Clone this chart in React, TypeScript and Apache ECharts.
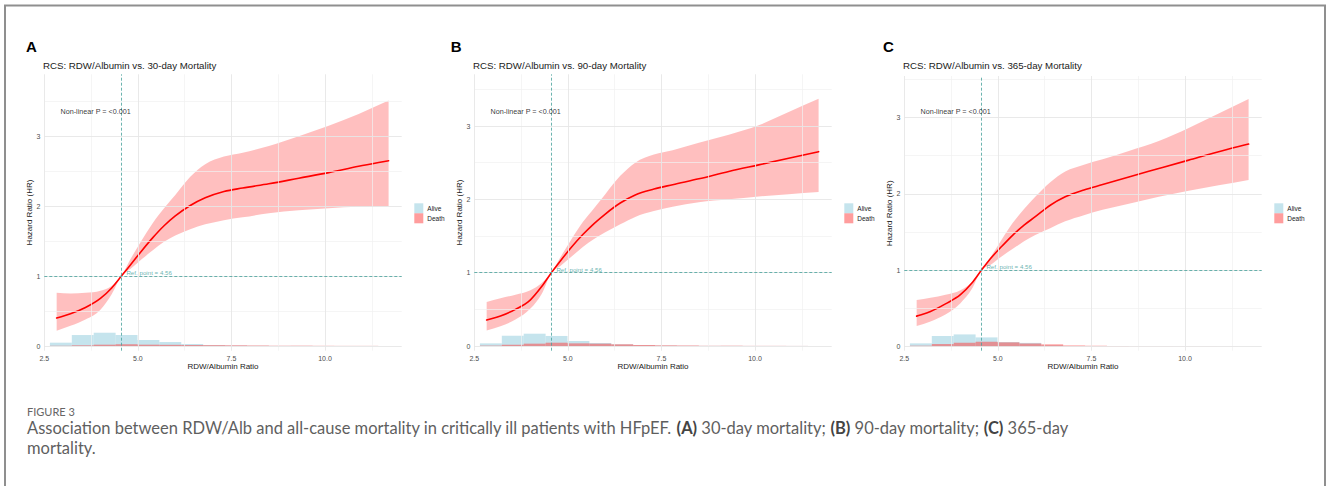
import { useEffect, useRef } from "react";
import * as echarts from "echarts";

// Reference value of the RDW/Albumin ratio (HR = 1)
const REF_POINT = 4.56;

// Knots at which the fitted hazard ratio and its 95% CI are read
const X_KNOTS = [2.83, 3.2, 3.6, 4.0, 4.3, 4.56, 4.8, 5.1, 5.4, 5.7, 6.0, 6.4, 6.8, 7.3, 7.8, 8.5, 9.3, 10.1, 10.9, 11.7];

// 30-day mortality
const HR_30 = [0.4, 0.46, 0.55, 0.68, 0.83, 1.0, 1.16, 1.36, 1.55, 1.72, 1.86, 2.01, 2.12, 2.21, 2.26, 2.32, 2.4, 2.48, 2.57, 2.65];
const LO_30 = [0.22, 0.29, 0.38, 0.52, 0.74, 1.0, 1.1, 1.24, 1.37, 1.49, 1.58, 1.67, 1.74, 1.8, 1.84, 1.9, 1.94, 1.97, 1.99, 2.0];
const HI_30 = [0.76, 0.75, 0.76, 0.79, 0.86, 1.0, 1.24, 1.51, 1.76, 1.97, 2.16, 2.42, 2.6, 2.71, 2.765, 2.86, 3.0, 3.15, 3.32, 3.51];

// 90-day mortality
const HR_90 = [0.355, 0.41, 0.5, 0.63, 0.81, 1.0, 1.16, 1.35, 1.52, 1.67, 1.8, 1.95, 2.06, 2.14, 2.2, 2.28, 2.38, 2.47, 2.56, 2.65];
const LO_90 = [0.21, 0.27, 0.36, 0.51, 0.71, 1.0, 1.09, 1.22, 1.35, 1.46, 1.55, 1.66, 1.76, 1.84, 1.9, 1.96, 2.0, 2.04, 2.07, 2.1];
const HI_90 = [0.6, 0.65, 0.7, 0.76, 0.86, 1.0, 1.21, 1.46, 1.69, 1.88, 2.07, 2.32, 2.5, 2.61, 2.67, 2.77, 2.88, 3.01, 3.19, 3.37];

// 365-day mortality
const HR_365 = [0.4, 0.46, 0.56, 0.68, 0.83, 1.0, 1.15, 1.31, 1.46, 1.59, 1.7, 1.85, 1.96, 2.05, 2.12, 2.22, 2.33, 2.44, 2.55, 2.65];
const LO_365 = [0.27, 0.33, 0.42, 0.57, 0.75, 1.0, 1.07, 1.18, 1.28, 1.38, 1.46, 1.55, 1.64, 1.72, 1.79, 1.87, 1.96, 2.04, 2.11, 2.18];
const HI_365 = [0.61, 0.64, 0.68, 0.74, 0.84, 1.0, 1.17, 1.4, 1.62, 1.8, 1.96, 2.15, 2.29, 2.38, 2.45, 2.56, 2.69, 2.86, 3.05, 3.24];

// Histogram bins of the ratio (left edges, common width), scaled densities
const BIN_LEFT = [2.65, 3.235, 3.82, 4.405, 4.99, 5.575, 6.16, 6.745, 7.33, 7.915, 8.5, 9.085, 9.67, 10.255, 10.84];
const BIN_WIDTH = 0.585;

const ALIVE_30 = [0.048, 0.157, 0.19, 0.157, 0.086, 0.057, 0.029, 0.012, 0.007, 0.004, 0.002, 0.002, 0.001, 0.001, 0.001];
const DEATH_30 = [0.003, 0.01, 0.019, 0.024, 0.019, 0.017, 0.014, 0.012, 0.01, 0.008, 0.004, 0.005, 0.003, 0.002, 0.002];
const ALIVE_90 = [0.036, 0.141, 0.168, 0.137, 0.068, 0.041, 0.023, 0.01, 0.006, 0.003, 0.002, 0.002, 0.001, 0.001, 0.001];
const DEATH_90 = [0.005, 0.018, 0.032, 0.045, 0.036, 0.032, 0.023, 0.014, 0.009, 0.007, 0.003, 0.004, 0.002, 0.002, 0.001];
const ALIVE_365 = [0.044, 0.14, 0.161, 0.122, 0.061, 0.05, 0.018, 0.008, 0.004, 0.002, 0.001, 0.001, 0.001, 0.0005, 0.0005];
const DEATH_365 = [0.013, 0.035, 0.052, 0.065, 0.057, 0.042, 0.031, 0.017, 0.013, 0.009, 0.004, 0.004, 0.003, 0.003, 0.002];

// Grid lines
const X_MAJOR = [2.5, 5, 7.5, 10];
const X_MINOR = [3.75, 6.25, 8.75, 11.25];
const Y_MAJOR = [0, 1, 2, 3];
const Y_MINOR = [0.5, 1.5, 2.5, 3.5];

const LEGEND_ITEMS = ["Alive", "Death"];
const NONLINEAR_TEXT = "Non-linear P = <0.001";
const REF_TEXT = "Ref. point = 4.56";

const PANELS = [
  {
    letter: "A",
    title: "RCS: RDW/Albumin vs. 30-day Mortality",
    hr: HR_30, lo: LO_30, hi: HI_30, alive: ALIVE_30, death: DEATH_30,
    yMin: -0.067, yMax: 3.886, top: 74.3, height: 276.4,
    letterX: 26, pY: 3.35, refY: 1.047,
  },
  {
    letter: "B",
    title: "RCS: RDW/Albumin vs. 90-day Mortality",
    hr: HR_90, lo: LO_90, hi: HI_90, alive: ALIVE_90, death: DEATH_90,
    yMin: -0.064, yMax: 3.705, top: 74.3, height: 276.4,
    letterX: 450.7, pY: 3.2, refY: 1.037,
  },
  {
    letter: "C",
    title: "RCS: RDW/Albumin vs. 365-day Mortality",
    hr: HR_365, lo: LO_365, hi: HI_365, alive: ALIVE_365, death: DEATH_365,
    yMin: -0.052, yMax: 3.54, top: 76, height: 274.7,
    letterX: 883, pY: 3.08, refY: 1.047,
  },
];

const FONT = "Liberation Sans, Arial, sans-serif";
const CAPTION_FONT = "Lato, 'Open Sans', sans-serif";
const ALIVE_FILL = "rgba(173,216,230,0.7)";
const DEATH_FILL = "rgba(255,60,60,0.5)";
const RIBBON_FILL = "rgba(255,0,0,0.25)";
const TEAL = "#45a19b";

// Cubic Hermite spline through (xs, ys) in data space, mapped to pixels with the axis scales
function hermitePath(xs: number[], ys: number[], coord: (v: number[]) => number[], start: "M" | "L"): string {
  const n = xs.length;
  const d: number[] = [];
  for (let i = 0; i < n - 1; i++) d.push((ys[i + 1] - ys[i]) / (xs[i + 1] - xs[i]));
  const m: number[] = xs.map((_, i) => {
    if (i === 0) return d[0];
    if (i === n - 1) return d[n - 2];
    const h0 = xs[i] - xs[i - 1];
    const h1 = xs[i + 1] - xs[i];
    return (d[i - 1] * h1 + d[i] * h0) / (h0 + h1);
  });
  const p0 = coord([xs[0], ys[0]]);
  let path = `${start}${p0[0]},${p0[1]}`;
  for (let i = 0; i < n - 1; i++) {
    const h = xs[i + 1] - xs[i];
    const c1 = coord([xs[i] + h / 3, ys[i] + (m[i] * h) / 3]);
    const c2 = coord([xs[i + 1] - h / 3, ys[i + 1] - (m[i + 1] * h) / 3]);
    const p = coord([xs[i + 1], ys[i + 1]]);
    path += ` C${c1[0]},${c1[1]} ${c2[0]},${c2[1]} ${p[0]},${p[1]}`;
  }
  return path;
}

function buildOption() {
  const grids: any[] = [];
  const xAxes: any[] = [];
  const yAxes: any[] = [];
  const legends: any[] = [];
  const series: any[] = [];
  const graphics: any[] = [];

  PANELS.forEach((p, k) => {
    const left = 44.3 + 430 * k;
    grids.push({ left, top: p.top, width: 357.4, height: p.height, containLabel: false });

    xAxes.push({
      type: "value",
      gridIndex: k,
      min: 2.5,
      max: 12.05,
      minInterval: 2.5,
      maxInterval: 2.5,
      axisLine: { show: false },
      axisTick: { show: false },
      splitLine: { show: false },
      axisLabel: {
        fontSize: 7,
        color: "#4d4d4d",
        margin: 4,
        fontFamily: FONT,
        showMaxLabel: false,
        formatter: (v: number) => v.toFixed(1),
      },
      name: "RDW/Albumin Ratio",
      nameLocation: "middle",
      nameGap: 12,
      nameMoveOverlap: false,
      nameTextStyle: { fontSize: 8, color: "#1a1a1a", fontFamily: FONT },
    });

    yAxes.push({
      type: "value",
      gridIndex: k,
      min: p.yMin,
      max: p.yMax,
      minInterval: 1,
      maxInterval: 1,
      axisLine: { show: false },
      axisTick: { show: false },
      splitLine: { show: false },
      axisLabel: {
        fontSize: 7,
        color: "#4d4d4d",
        margin: 4,
        fontFamily: FONT,
        showMinLabel: false,
        showMaxLabel: false,
        formatter: (v: number) => String(v),
      },
      name: "Hazard Ratio (HR)",
      nameLocation: "middle",
      nameGap: 10.5,
      nameMoveOverlap: false,
      nameTextStyle: { fontSize: 8, color: "#1a1a1a", fontFamily: FONT },
    });

    legends.push({
      data: LEGEND_ITEMS,
      left: 414.3 + 430 * k,
      top: 203.3,
      orient: "vertical",
      icon: "rect",
      itemWidth: 9,
      itemHeight: 10,
      itemGap: 0,
      padding: 0,
      selectedMode: false,
      textStyle: { fontSize: 6.5, color: "#1a1a1a", fontFamily: FONT, padding: [0, 0, 0, -1] },
    });

    const major = { color: "#e6e6e6", width: 0.9, type: "solid" };
    const minor = { color: "#f1f1f1", width: 0.7, type: "solid" };

    // Panel grid lines
    series.push({
      type: "line",
      xAxisIndex: k,
      yAxisIndex: k,
      data: [],
      silent: true,
      z: 1,
      markLine: {
        silent: true,
        animation: false,
        symbol: ["none", "none"],
        label: { show: false },
        emphasis: { disabled: true },
        data: [
          ...X_MINOR.map((v) => ({ xAxis: v, lineStyle: minor })),
          ...Y_MINOR.map((v) => ({ yAxis: v, lineStyle: minor })),
          ...X_MAJOR.map((v) => ({ xAxis: v, lineStyle: major })),
          ...Y_MAJOR.map((v) => ({ yAxis: v, lineStyle: major })),
        ],
      },
    });

    // Histograms of the ratio by outcome
    const histSeries = (name: string, values: number[], fill: string) => ({
      type: "custom",
      name,
      xAxisIndex: k,
      yAxisIndex: k,
      z: 2,
      silent: true,
      itemStyle: { color: fill },
      encode: { x: [0, 1], y: 2 },
      data: BIN_LEFT.map((x, i) => [x, x + BIN_WIDTH, values[i]]),
      renderItem: (_params: any, api: any) => {
        const a = api.coord([api.value(0), api.value(2)]);
        const b = api.coord([api.value(1), 0]);
        return {
          type: "rect",
          shape: { x: a[0], y: a[1], width: b[0] - a[0], height: b[1] - a[1] },
          style: { fill },
        };
      },
    });
    series.push(histSeries("Alive", p.alive, ALIVE_FILL));
    series.push(histSeries("Death", p.death, DEATH_FILL));

    // 95% confidence band
    series.push({
      type: "custom",
      xAxisIndex: k,
      yAxisIndex: k,
      z: 3,
      silent: true,
      encode: { x: 0, y: [1, 2] },
      data: X_KNOTS.map((x, i) => [x, p.lo[i], p.hi[i]]),
      renderItem: (params: any, api: any) => {
        if (params.dataIndex !== 0) return { type: "group", children: [] };
        const coord = (v: number[]) => api.coord(v);
        const revX = X_KNOTS.slice().reverse();
        const revLo = p.lo.slice().reverse();
        const d = hermitePath(X_KNOTS, p.hi, coord, "M") + " " + hermitePath(revX, revLo, coord, "L") + " Z";
        return { type: "path", shape: { pathData: d }, style: { fill: RIBBON_FILL, stroke: "none" } };
      },
    });

    // Fitted hazard ratio curve
    series.push({
      type: "custom",
      xAxisIndex: k,
      yAxisIndex: k,
      z: 4,
      silent: true,
      encode: { x: 0, y: 1 },
      data: X_KNOTS.map((x, i) => [x, p.hr[i]]),
      renderItem: (params: any, api: any) => {
        if (params.dataIndex !== 0) return { type: "group", children: [] };
        const coord = (v: number[]) => api.coord(v);
        return {
          type: "path",
          shape: { pathData: hermitePath(X_KNOTS, p.hr, coord, "M") },
          style: { fill: "none", stroke: "#ff0000", lineWidth: 1.6, lineCap: "round", lineJoin: "round" },
        };
      },
    });

    // Reference lines: HR = 1 and the reference ratio
    series.push({
      type: "line",
      xAxisIndex: k,
      yAxisIndex: k,
      data: [],
      silent: true,
      z: 5,
      markLine: {
        silent: true,
        animation: false,
        symbol: ["none", "none"],
        label: { show: false },
        emphasis: { disabled: true },
        lineStyle: { color: TEAL, width: 0.8, type: [3, 2] },
        data: [{ yAxis: 1 }, { xAxis: REF_POINT }],
      },
    });

    // Annotations
    series.push({
      type: "scatter",
      xAxisIndex: k,
      yAxisIndex: k,
      z: 6,
      silent: true,
      symbolSize: 1,
      itemStyle: { color: "rgba(0,0,0,0)" },
      label: { show: true, position: "right", distance: 0, fontFamily: FONT },
      data: [
        {
          value: [2.92, p.pY],
          label: { formatter: NONLINEAR_TEXT, fontSize: 7.2, color: "#000" },
        },
        {
          value: [4.68, p.refY],
          label: { formatter: REF_TEXT, fontSize: 6.2, color: TEAL },
        },
      ],
    });

    graphics.push({
      type: "text",
      x: p.letterX,
      y: 46.3,
      style: { text: p.letter, fontSize: 15, fontWeight: "bold", fill: "#000", fontFamily: FONT, verticalAlign: "middle", align: "left" },
    });
    graphics.push({
      type: "text",
      x: 43 + 430 * k,
      y: 65,
      style: { text: p.title, fontSize: 9.7, fill: "#1a1a1a", fontFamily: FONT, verticalAlign: "middle", align: "left" },
    });
  });

  // Figure frame
  graphics.push({
    type: "polyline",
    shape: { points: [[5, 486], [5, 5.5], [1325, 5.5], [1325, 486]] },
    style: { stroke: "#8f8f8f", lineWidth: 2, fill: "none" },
  });

  // Caption
  graphics.push({
    type: "text",
    x: 27,
    y: 411.7,
    style: { text: "FIGURE 3", fontSize: 11, fill: "#666", fontFamily: CAPTION_FONT, verticalAlign: "middle", align: "left" },
  });
  graphics.push({
    type: "text",
    x: 27,
    y: 428.3,
    style: {
      text:
        "{n|Association between RDW/Alb and all-cause mortality in critically ill patients with HFpEF. }" +
        "{b|(A)}{n| 30-day mortality; }{b|(B)}{n| 90-day mortality; }{b|(C)}{n| 365-day}",
      verticalAlign: "middle",
      align: "left",
      rich: {
        n: { fontSize: 16.5, fill: "#5f5f5f", fontFamily: CAPTION_FONT },
        b: { fontSize: 16.5, fill: "#444", fontWeight: "bold", fontFamily: CAPTION_FONT },
      },
    },
  });
  graphics.push({
    type: "text",
    x: 27,
    y: 448.3,
    style: { text: "mortality.", fontSize: 16.5, fill: "#5f5f5f", fontFamily: CAPTION_FONT, verticalAlign: "middle", align: "left" },
  });

  return {
    animation: false,
    backgroundColor: "#ffffff",
    textStyle: { fontFamily: FONT },
    grid: grids,
    xAxis: xAxes,
    yAxis: yAxes,
    legend: legends,
    series,
    graphic: graphics,
  };
}

export default function App() {
  const ref = useRef<HTMLDivElement>(null);

  useEffect(() => {
    if (!ref.current) return;
    const chart = echarts.init(ref.current, null, { renderer: "svg" });
    chart.setOption(buildOption() as any);
    return () => chart.dispose();
  }, []);

  return (
    <div
      ref={ref}
      style={{ position: "absolute", left: 0, top: 0, width: 1328, height: 486, background: "#fff" }}
    />
  );
}
